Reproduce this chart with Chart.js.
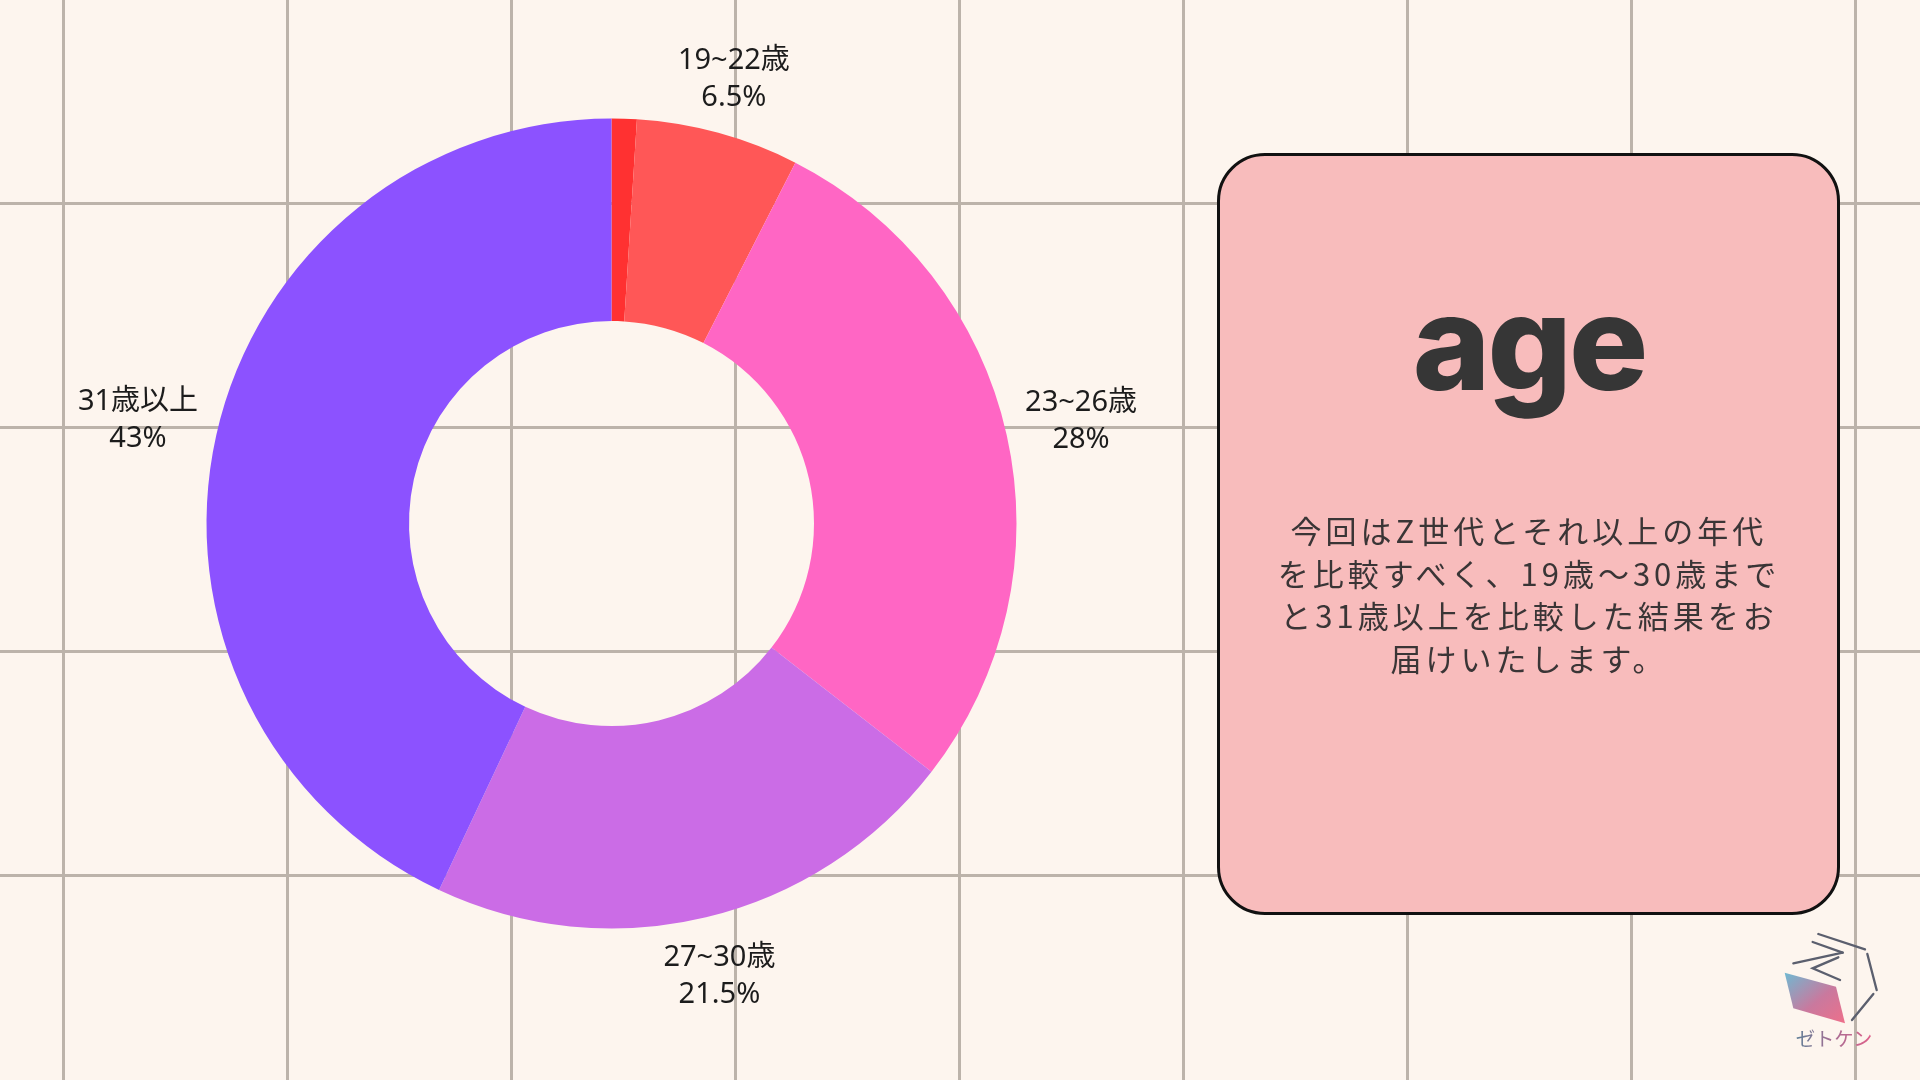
<!DOCTYPE html>
<html lang="ja">
<head>
<meta charset="utf-8">
<script src="https://cdn.jsdelivr.net/npm/chart.js@4.4.1/dist/chart.umd.min.js"></script>
<style>
    html, body {
        margin: 0;
        padding: 0;
        width: 1920px;
        height: 1080px;
        overflow: hidden;
    }
    body {
        position: relative;
        background-color: #fdf5ee;
        background-image:
            linear-gradient(to right, #bcb3aa 3px, transparent 3px),
            linear-gradient(to bottom, #bcb3aa 3px, transparent 3px);
        background-size: 224px 224px, 224px 224px;
        background-position: 62px 0, 0 202px;
        font-family: "Noto Sans CJK JP", "Noto Sans", sans-serif;
    }
    #Chart1 {
        position: absolute;
        left: 0;
        top: 0;
    }
    .card {
        position: absolute;
        left: 1217px;
        top: 153px;
        width: 617px;
        height: 756px;
        background: #f8bcbc;
        border: 3.5px solid #111;
        border-radius: 48px;
    }
    .card-title {
        position: absolute;
        left: 1217px;
        width: 624px;
        top: 276px;
        text-align: center;
        font-family: Inter, sans-serif;
        font-weight: 800;
        font-size: 132px;
        line-height: 132px;
        letter-spacing: -3px;
        color: #363636;
    }
    .card-text {
        position: absolute;
        left: 1207px;
        width: 644px;
        top: 509px;
        text-align: center;
        font-size: 31px;
        line-height: 42.7px;
        letter-spacing: 4px;
        color: #3a3536;
    }
    .logo {
        position: absolute;
        left: 1760px;
        top: 920px;
    }
</style>
</head>
<body>
<canvas id="Chart1" width="1920" height="1080"></canvas>

<div class="card"></div>
<div class="card-title">age</div>
<div class="card-text">今回はZ世代とそれ以上の年代<br>を比較すべく、19歳〜30歳まで<br>と31歳以上を比較した結果をお<br>届けいたします。</div>

<svg class="logo" width="160" height="160" viewBox="0 0 480 480">
    <defs>
        <linearGradient id="gPlate" x1="0" y1="0" x2="1" y2="1">
            <stop offset="0" stop-color="#6fb9d2"/>
            <stop offset="0.55" stop-color="#c9799e"/>
            <stop offset="1" stop-color="#ee6f8a"/>
        </linearGradient>
        <linearGradient id="gText" x1="0" y1="0" x2="1" y2="0">
            <stop offset="0" stop-color="#5f7f96"/>
            <stop offset="0.5" stop-color="#a86d93"/>
            <stop offset="1" stop-color="#e0608a"/>
        </linearGradient>
    </defs>
    <g stroke="#5b5f6e" stroke-width="7" fill="none" stroke-linecap="round">
        <line x1="175" y1="42" x2="315" y2="88"/>
        <line x1="158" y1="66" x2="248" y2="98"/>
        <line x1="100" y1="130" x2="248" y2="98"/>
        <polyline points="235,112 158,145 240,180"/>
        <line x1="322" y1="102" x2="350" y2="210"/>
        <line x1="340" y1="222" x2="276" y2="300"/>
    </g>
    <polygon points="74,158 228,200 255,310 100,265" fill="url(#gPlate)"/>
    <text x="222" y="378" text-anchor="middle" font-family="Noto Sans CJK JP" font-size="58" fill="url(#gText)">ゼトケン</text>
</svg>

<script>
// data
const ageLabels = ["", "19~22歳", "23~26歳", "27~30歳", "31歳以上"];
const ageShares = [1, 6.5, 28, 21.5, 43];
const sliceColors = ["#ff3131", "#ff5757", "#ff66c4", "#cb6ce6", "#8c52ff"];

// labels outside each slice: name on top, percent below
const outsideLabels = {
    id: "outsideLabels",
    afterDatasetsDraw(chart) {
        const ctx = chart.ctx;
        const meta = chart.getDatasetMeta(0);
        const lineGap = 37;
        ctx.save();
        ctx.font = "29px 'Noto Sans', 'Noto Sans CJK JP'";
        ctx.fillStyle = "#1c1c1c";
        ctx.textAlign = "center";
        ctx.textBaseline = "middle";
        meta.data.forEach(function (arc, i) {
            const name = chart.data.labels[i];
            if (!name) return;
            const p = arc.getProps(["x", "y", "startAngle", "endAngle", "outerRadius"], true);
            const mid = (p.startAngle + p.endAngle) / 2;
            const pct = chart.data.datasets[0].data[i] + "%";
            const halfW = Math.max(ctx.measureText(name).width, ctx.measureText(pct).width) / 2;
            const halfH = 30;
            const dist = p.outerRadius + 15 + halfW * Math.abs(Math.cos(mid)) + halfH * Math.abs(Math.sin(mid));
            const cx = p.x + dist * Math.cos(mid);
            const cy = p.y + dist * Math.sin(mid) + 3;
            ctx.fillText(name, cx, cy - lineGap / 2);
            ctx.fillText(pct, cx, cy + lineGap / 2);
        });
        ctx.restore();
    },
};

const ctx1 = document.getElementById("Chart1").getContext("2d");
const chart1 = new Chart(ctx1, {
    type: "doughnut",
    data: {
        labels: ageLabels,
        datasets: [
            {
                data: ageShares,
                backgroundColor: sliceColors,
                borderWidth: 0,
            },
        ],
    },
    options: {
        responsive: false,
        animation: false,
        radius: 405,
        cutout: "50%",
        layout: {
            padding: {
                top: 0,
                left: 0,
                right: 697,
                bottom: 33,
            },
        },
        plugins: {
            legend: {
                display: false,
            },
            tooltip: {
                enabled: false,
            },
            title: {
                display: false,
            },
        },
    },
    plugins: [outsideLabels],
});
</script>
</body>
</html>
